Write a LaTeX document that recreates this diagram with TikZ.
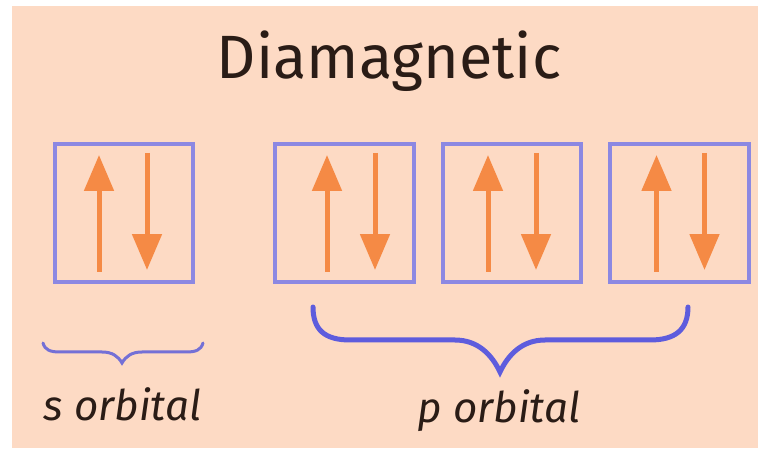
\documentclass[tikz,border=0pt]{standalone}
\usepackage{fontspec}
\setmainfont{Fira Sans}
\usetikzlibrary{arrows.meta}

\definecolor{peach}{HTML}{FDDAC4}
\definecolor{boxblue}{HTML}{8C88E2}
\definecolor{bracep}{HTML}{5E5CDD}
\definecolor{braces}{HTML}{7470D6}
\definecolor{spin}{HTML}{F58A45}
\definecolor{ink}{HTML}{2A1C16}

\tikzset{
  orbbox/.style={draw=boxblue, line width=0.08cm, minimum width=2.78cm,
    minimum height=2.78cm, inner sep=0pt},
  spinarrow/.style={spin, line width=0.1cm,
    -{Triangle[width=0.58cm, length=0.72cm]}},
  lab/.style={text=ink, font=\fontsize{24}{28}\selectfont\itshape, anchor=base}
}

\begin{document}
\begin{tikzpicture}[x=0.02cm, y=-0.02cm]
  %% 背景
  \fill[white] (0, 0) rectangle (758, 449);
  \fill[peach] (12, 6) rectangle (758, 448);

  %% 見出し
  \node[text=ink, font=\fontsize{34.8}{40}\selectfont, anchor=base] (title) at (389, 79) {Diamagnetic};

  %% 軌道の箱と電子スピン
  \foreach \name/\bx/\ax in {s/124/123, pa/344.5/351, pb/512/512, pc/679.5/680.5} {
    \node[orbbox] (\name) at (\bx, 213) {};
    \draw[spinarrow] (\ax-24, 272) -- (\ax-24, 155);
    \draw[spinarrow] (\ax+24, 153) -- (\ax+24, 270);
  }

  %% s の括弧
  \draw[braces, line width=0.06cm, line cap=round]
    (43, 343) .. controls (45, 350) and (50, 352) .. (60, 352)
    -- (102, 352) .. controls (112, 352) and (118, 356) .. (122, 363)
    .. controls (126, 356) and (132, 352) .. (142, 352)
    -- (186, 352) .. controls (196, 352) and (201, 350) .. (203, 343);

  %% p の括弧
  \draw[bracep, line width=0.1cm, line cap=round]
    (313, 307) .. controls (313, 330) and (325, 340) .. (350, 340)
    -- (455, 340) .. controls (478, 340) and (492, 355) .. (500, 372)
    .. controls (508, 355) and (522, 340) .. (545, 340)
    -- (650, 340) .. controls (675, 340) and (688, 330) .. (688, 307);

  %% ラベル
  \node[lab] (slab) at (122.5, 420) {s orbital};
  \node[lab] (plab) at (499, 422) {p orbital};
\end{tikzpicture}
\end{document}
